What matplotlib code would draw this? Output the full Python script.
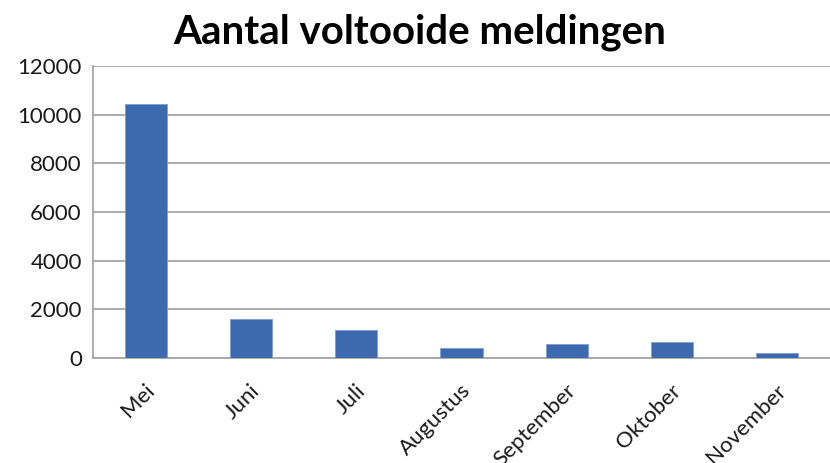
import matplotlib.pyplot as plt
import matplotlib.transforms as mtransforms
import numpy as np

# gegevens
maanden = ['Mei', 'Juni', 'Juli', 'Augustus', 'September', 'Oktober', 'November']
meldingen = [10450, 1590, 1155, 425, 565, 675, 225]

plt.rcParams['font.family'] = ['Lato', 'DejaVu Sans']

fig = plt.figure(figsize=(8.3, 4.63), dpi=100)
ax = fig.add_axes([0.112, 0.2268, 0.888, 0.631])

x = np.arange(len(maanden))
ax.bar(x, meldingen, width=0.4, color='#3D6AAE', edgecolor='#7E9FD0', linewidth=0.6, zorder=3)

ax.set_xlim(-0.5, len(maanden) - 0.5)
ax.set_ylim(0, 12000)
ax.set_yticks(range(0, 12001, 2000))
ax.yaxis.grid(True, color='#A6A6A6', linewidth=1.3, zorder=0)
ax.set_axisbelow(True)

for s in ['top', 'right']:
    ax.spines[s].set_visible(False)
for s in ['left', 'bottom']:
    ax.spines[s].set_color('#A6A6A6')
    ax.spines[s].set_linewidth(1.3)

ax.tick_params(axis='both', length=0, labelsize=16, colors='#1a1a1a')
ax.tick_params(axis='y', pad=8)
ax.set_xticks(x)
ax.set_xticklabels(maanden, rotation=45, ha='right', va='top', rotation_mode='anchor')
ax.tick_params(axis='x', pad=16)
verschuiving = mtransforms.ScaledTranslation(-0.01, 0, fig.dpi_scale_trans)
for lbl in ax.get_xticklabels():
    lbl.set_transform(lbl.get_transform() + verschuiving)

fig.text(0.506, 0.93, 'Aantal voltooide meldingen', ha='center', va='center',
         fontsize=29, fontweight='bold', color='black')

fig.savefig('out.png', dpi=100)
